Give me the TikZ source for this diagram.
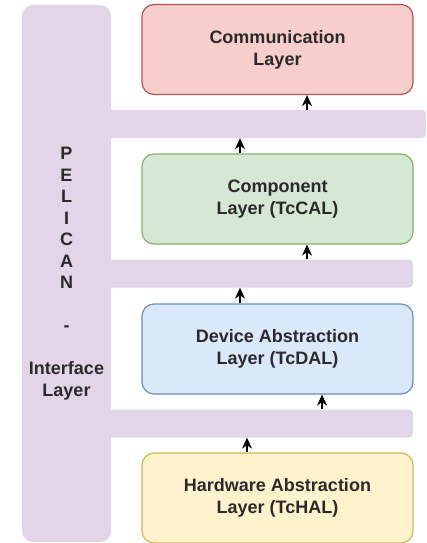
\documentclass[tikz,border=0pt]{standalone}
\usepackage{fontspec}
\setmainfont{Liberation Sans}
\usepackage{tikz}
\usetikzlibrary{arrows.meta}

\definecolor{pelicanfill}{HTML}{E1D5E7}
\definecolor{commfill}{HTML}{F8CECC}
\definecolor{commline}{HTML}{B85450}
\definecolor{compfill}{HTML}{D5E8D4}
\definecolor{compline}{HTML}{82B366}
\definecolor{devfill}{HTML}{DAE8FC}
\definecolor{devline}{HTML}{6C8EBF}
\definecolor{hwfill}{HTML}{FFF2CC}
\definecolor{hwline}{HTML}{D6B656}
\definecolor{txt}{HTML}{2A2A2A}

\begin{document}
\begin{tikzpicture}[x=1pt, y=-1pt,
    layer/.style={draw, line width=1.2pt, rounded corners=12pt, minimum width=271pt,
        minimum height=90pt, align=center, text=txt, font=\bfseries\fontsize{18}{22}\selectfont},
    bar/.style={fill=pelicanfill, rounded corners=4pt, minimum height=28pt, inner sep=0pt},
    arr/.style={-{Stealth[length=11pt,width=10pt,inset=3.5pt]}, line width=1.2pt}]
    \useasboundingbox (0, 0) rectangle (427, 543);

    % interface layer on the left
    \node[fill=pelicanfill, rounded corners=11pt, minimum width=89pt, minimum height=537pt,
        align=center, text=txt, font=\bfseries\fontsize{18}{21.5}\selectfont]
        (pelican) at (66.5, 273.5) {P\\E\\L\\I\\C\\A\\N\\[21.5pt]-\\[21.5pt]Interface\\Layer};

    % bars between the layers
    \node[bar, minimum width=336pt] (bar1) at (258, 124) {};
    \node[bar, minimum width=313pt] (bar2) at (256.5, 273.5) {};
    \node[bar, minimum width=313pt] (bar3) at (256.5, 423.5) {};

    % layers
    \node[layer, fill=commfill, draw=commline] (comm) at (277.5, 49.5) {Communication\\Layer};
    \node[layer, fill=compfill, draw=compline] (comp) at (277.5, 199) {Component\\Layer (TcCAL)};
    \node[layer, fill=devfill, draw=devline] (dev) at (277.5, 349) {Device Abstraction\\Layer (TcDAL)};
    \node[layer, fill=hwfill, draw=hwline] (hw) at (277.5, 498) {Hardware Abstraction\\Layer (TcHAL)};

    % arrows
    \draw[arr] (bar1.north -| 307, 0) -- (comm.south -| 307, 0);
    \draw[arr] (comp.north -| 240, 0) -- (bar1.south -| 240, 0);
    \draw[arr] (bar2.north -| 307, 0) -- (comp.south -| 307, 0);
    \draw[arr] (dev.north -| 240, 0) -- (bar2.south -| 240, 0);
    \draw[arr] (bar3.north -| 322, 0) -- (dev.south -| 322, 0);
    \draw[arr] (hw.north -| 247, 0) -- (bar3.south -| 247, 0);
\end{tikzpicture}
\end{document}
